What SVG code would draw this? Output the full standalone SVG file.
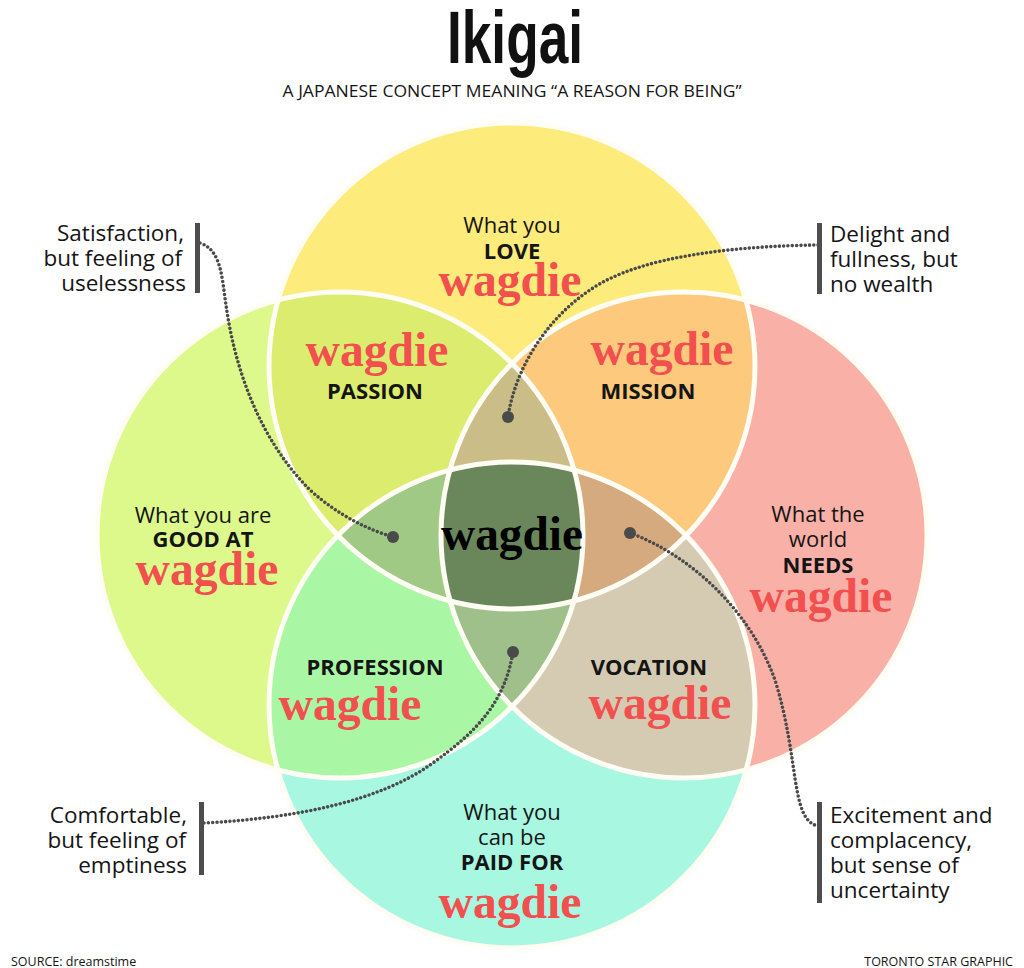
<svg xmlns="http://www.w3.org/2000/svg" width="1024" height="968" viewBox="0 0 1024 968">
<style>
.t{font-family:"Open Sans","Noto Sans","Liberation Sans",sans-serif;fill:#151515}
.r{font-size:22px}
.b{font-size:22px;font-weight:700}
.n{font-size:22.5px}
.w{font-family:"Liberation Serif","DejaVu Serif",serif;font-weight:700;font-size:48px;fill:#f24f4f}
.dots{fill:none;stroke:#4a4a4a;stroke-width:3.6;stroke-linecap:round;stroke-dasharray:0 4.3}
.bar{fill:#4d4d4d}
.ol{fill:none;stroke:#fffdf4;stroke-width:5}
</style>
<defs>
<clipPath id="cT"><circle cx="512" cy="366" r="243"/></clipPath>
<clipPath id="cL"><circle cx="340" cy="535" r="243"/></clipPath>
<clipPath id="cR"><circle cx="684" cy="535" r="243"/></clipPath>
<clipPath id="cB"><circle cx="512" cy="705" r="243"/></clipPath>
</defs>
<rect width="1024" height="968" fill="#ffffff"/>

<g id="title">
<text x="515" y="63" text-anchor="middle" textLength="136" lengthAdjust="spacingAndGlyphs" style="font-family:'Liberation Sans Narrow','Liberation Sans',sans-serif;font-weight:700;font-size:74px;fill:#111">Ikigai</text>
<text x="512" y="97" text-anchor="middle" textLength="459" lengthAdjust="spacingAndGlyphs" class="t" style="font-size:15.5px">A JAPANESE CONCEPT MEANING “A REASON FOR BEING”</text>
</g>

<g id="circle-love"><circle cx="512" cy="366" r="243" fill="#fdeb7b"/></g>
<g id="circle-good"><circle cx="340" cy="535" r="243" fill="#ddf98b"/></g>
<g id="circle-needs"><circle cx="684" cy="535" r="243" fill="#f9b0a6"/></g>
<g id="circle-paid"><circle cx="512" cy="705" r="243" fill="#a7f7e1"/></g>

<g id="passion"><circle cx="512" cy="366" r="243" fill="#dcec6e" clip-path="url(#cL)"/></g>
<g id="mission"><circle cx="512" cy="366" r="243" fill="#fdc97c" clip-path="url(#cR)"/></g>
<g id="profession"><circle cx="512" cy="705" r="243" fill="#a9f6a4" clip-path="url(#cL)"/></g>
<g id="vocation"><circle cx="512" cy="705" r="243" fill="#d5cbb3" clip-path="url(#cR)"/></g>

<g id="lens-top" clip-path="url(#cT)"><circle cx="340" cy="535" r="243" fill="#cabd88" clip-path="url(#cR)"/></g>
<g id="lens-bottom" clip-path="url(#cB)"><circle cx="340" cy="535" r="243" fill="#9fbf8b" clip-path="url(#cR)"/></g>
<g id="lens-left" clip-path="url(#cT)"><circle cx="512" cy="705" r="243" fill="#9fc985" clip-path="url(#cL)"/></g>
<g id="lens-right" clip-path="url(#cT)"><circle cx="512" cy="705" r="243" fill="#d4aa7e" clip-path="url(#cR)"/></g>
<g id="ikigai-center" clip-path="url(#cT)"><g clip-path="url(#cB)"><circle cx="340" cy="535" r="243" fill="#6a875c" clip-path="url(#cR)"/></g></g>

<g id="outlines">
<circle class="ol" cx="512" cy="366" r="243"/>
<circle class="ol" cx="340" cy="535" r="243"/>
<circle class="ol" cx="684" cy="535" r="243"/>
<circle class="ol" cx="512" cy="705" r="243"/>
</g>

<g id="connectors">
<path class="dots" d="M200,243 C222,250 222,280 226,305 C235,370 260,440 310,490 C340,517 370,530 393,537"/>
<path class="dots" d="M818,245 C740,246 640,255 590,290 C545,320 515,370 508,417"/>
<path class="dots" d="M204,823 C300,818 380,800 430,765 C480,730 505,700 513,652"/>
<path class="dots" d="M630,533 C690,555 750,610 775,680 C800,760 790,820 818,826"/>
<circle cx="393" cy="537" r="6" fill="#4a4a4a"/>
<circle cx="508" cy="417" r="6" fill="#4a4a4a"/>
<circle cx="513" cy="652" r="6" fill="#4a4a4a"/>
<circle cx="630" cy="533" r="6" fill="#4a4a4a"/>
</g>

<g id="label-love">
<text class="t r" x="512" y="233" text-anchor="middle">What you</text>
<text class="t b" x="512" y="259" text-anchor="middle">LOVE</text>
<text class="w" x="510" y="296" text-anchor="middle" textLength="143" lengthAdjust="spacingAndGlyphs">wagdie</text>
</g>
<g id="label-good">
<text class="t r" x="203" y="523" text-anchor="middle">What you are</text>
<text class="t b" x="203" y="547" text-anchor="middle">GOOD AT</text>
<text class="w" x="207" y="585" text-anchor="middle" textLength="143" lengthAdjust="spacingAndGlyphs">wagdie</text>
</g>
<g id="label-needs">
<text class="t r" x="818" y="522" text-anchor="middle">What the</text>
<text class="t r" x="818" y="547" text-anchor="middle">world</text>
<text class="t b" x="818" y="573" text-anchor="middle">NEEDS</text>
<text class="w" x="821" y="612" text-anchor="middle" textLength="143" lengthAdjust="spacingAndGlyphs">wagdie</text>
</g>
<g id="label-paid">
<text class="t r" x="512" y="820" text-anchor="middle">What you</text>
<text class="t r" x="512" y="845" text-anchor="middle">can be</text>
<text class="t b" x="512" y="870" text-anchor="middle">PAID FOR</text>
<text class="w" x="510" y="918" text-anchor="middle" textLength="143" lengthAdjust="spacingAndGlyphs">wagdie</text>
</g>
<g id="label-passion">
<text class="w" x="377" y="366" text-anchor="middle" textLength="143" lengthAdjust="spacingAndGlyphs">wagdie</text>
<text class="t b" x="375" y="399" text-anchor="middle">PASSION</text>
</g>
<g id="label-mission">
<text class="w" x="662" y="365" text-anchor="middle" textLength="143" lengthAdjust="spacingAndGlyphs">wagdie</text>
<text class="t b" x="648" y="399" text-anchor="middle">MISSION</text>
</g>
<g id="label-profession">
<text class="t b" x="375" y="675" text-anchor="middle">PROFESSION</text>
<text class="w" x="350" y="720" text-anchor="middle" textLength="143" lengthAdjust="spacingAndGlyphs">wagdie</text>
</g>
<g id="label-vocation">
<text class="t b" x="649" y="675" text-anchor="middle">VOCATION</text>
<text class="w" x="660" y="719" text-anchor="middle" textLength="143" lengthAdjust="spacingAndGlyphs">wagdie</text>
</g>
<g id="label-center">
<text class="w" x="512" y="550" text-anchor="middle" textLength="142" lengthAdjust="spacingAndGlyphs" style="fill:#000">wagdie</text>
</g>

<g id="note-satisfaction">
<rect class="bar" x="195" y="223" width="5" height="70"/>
<text class="t n" x="184" y="241" text-anchor="end">Satisfaction,</text>
<text class="t n" x="182" y="266" text-anchor="end">but feeling of</text>
<text class="t n" x="186" y="291" text-anchor="end">uselessness</text>
</g>
<g id="note-delight">
<rect class="bar" x="817" y="223" width="5" height="71"/>
<text class="t n" x="830" y="242">Delight and</text>
<text class="t n" x="830" y="267">fullness, but</text>
<text class="t n" x="830" y="292">no wealth</text>
</g>
<g id="note-comfortable">
<rect class="bar" x="199" y="802" width="5" height="73"/>
<text class="t n" x="187" y="823" text-anchor="end">Comfortable,</text>
<text class="t n" x="186" y="848" text-anchor="end">but feeling of</text>
<text class="t n" x="187" y="873" text-anchor="end">emptiness</text>
</g>
<g id="note-excitement">
<rect class="bar" x="817" y="802" width="5" height="101"/>
<text class="t n" x="830" y="823">Excitement and</text>
<text class="t n" x="830" y="848">complacency,</text>
<text class="t n" x="830" y="873">but sense of</text>
<text class="t n" x="830" y="898">uncertainty</text>
</g>

<g id="footer">
<text class="t" x="11" y="966" style="font-size:12.5px">SOURCE: dreamstime</text>
<text class="t" x="1013" y="966" text-anchor="end" style="font-size:12.5px">TORONTO STAR GRAPHIC</text>
</g>
</svg>
